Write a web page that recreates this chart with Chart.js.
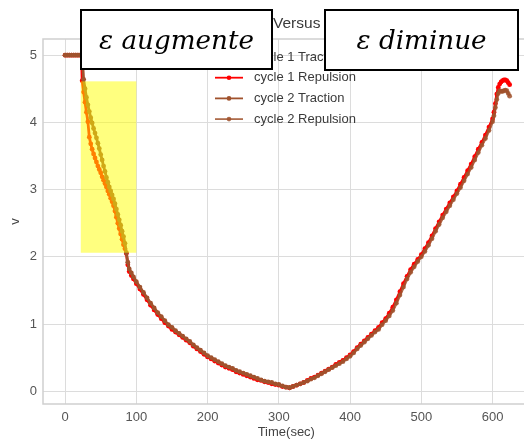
<!DOCTYPE html>
<html>
<head>
<meta charset="utf-8">
<script src="https://cdn.jsdelivr.net/npm/chart.js@4.4.1/dist/chart.umd.min.js"></script>
<style>
  html, body { margin: 0; padding: 0; background: #fff; overflow: hidden; }
  #wrap { width: 532px; height: 442px; }
</style>
</head>
<body>
<div id="wrap"><canvas id="chart" width="532" height="442"></canvas></div>
<script>
// Values (time in seconds, v)
const tractionTime = [
  0, 3, 6, 9, 12, 15, 18, 21, 23,
  24, 26, 28, 30, 32, 34, 36, 38, 40, 42, 44, 46, 48, 50, 52, 54, 56, 58, 60, 62,
  64, 66, 68, 70, 72, 74, 76, 78, 80, 82, 84, 86,
  88, 90, 93, 96,
  100, 105, 110, 115, 120, 125, 130, 135, 140, 145, 150, 155, 160, 165, 170, 175,
  180, 185, 190, 195, 200, 205, 210, 215, 220, 225, 230, 235, 240, 245, 250, 255,
  260, 265, 270, 275, 280, 285, 290, 295, 300, 305, 310, 315,
]
const cycle1Traction = [
  5, 5, 5, 5, 5, 5, 5, 5, 5,
  4.62, 4.45, 4.30, 4.15, 4.01, 3.78, 3.68, 3.60, 3.53, 3.47,
  3.41, 3.35, 3.30, 3.25, 3.19, 3.14, 3.09, 3.04, 2.98, 2.93,
  2.87, 2.82, 2.76, 2.68, 2.59, 2.50, 2.42, 2.34, 2.26, 2.18, 2.12, 2.05,
  1.88, 1.78, 1.72, 1.67,
  1.60, 1.52, 1.44, 1.36, 1.28, 1.21, 1.14, 1.08, 1.02, 0.97,
  0.92, 0.88, 0.84, 0.80, 0.76, 0.72, 0.67, 0.63, 0.59, 0.55,
  0.51, 0.48, 0.45, 0.42, 0.39, 0.36, 0.34, 0.32, 0.29, 0.27,
  0.25, 0.23, 0.21, 0.19, 0.17, 0.16, 0.14, 0.13, 0.11, 0.10,
  0.09, 0.07, 0.06, 0.05,
]
const cycle2Traction = [
  5, 5, 5, 5, 5, 5, 5, 5, 5,
  5, 4.64, 4.50, 4.37, 4.26, 4.16, 4.07, 3.99, 3.91, 3.84,
  3.77, 3.69, 3.61, 3.52, 3.44, 3.35, 3.27, 3.18, 3.11, 3.04,
  2.98, 2.92, 2.86, 2.79, 2.71, 2.63, 2.55, 2.47, 2.38, 2.30, 2.20, 2.06,
  1.92, 1.82, 1.76, 1.70,
  1.63, 1.55, 1.47, 1.39, 1.31, 1.24, 1.17, 1.11, 1.05, 0.99,
  0.95, 0.90, 0.86, 0.82, 0.78, 0.74, 0.69, 0.65, 0.61, 0.57,
  0.53, 0.50, 0.47, 0.44, 0.41, 0.38, 0.36, 0.34, 0.31, 0.29,
  0.27, 0.25, 0.23, 0.21, 0.19, 0.17, 0.15, 0.14, 0.13, 0.11,
  0.10, 0.08, 0.06, 0.055,
]

const repulsionTime = [
  315, 320, 325, 330, 335, 340, 345, 350, 355, 360,
  365, 370, 375, 380, 385, 390, 395, 400, 405, 410,
  415, 420, 425, 430, 435, 440, 445, 450, 455, 460,
  465, 470, 475, 480, 485, 490, 495, 500, 505, 510,
  515, 520, 525, 530, 535, 540, 545, 550, 555, 560,
  565, 570, 575, 580, 585, 590, 595, 600,
  602, 604, 606, 608, 610, 612, 614, 616, 618, 620, 622, 624,
]
const cycle1Repulsion = [
  0.05, 0.07, 0.09, 0.11, 0.13, 0.16, 0.19, 0.21, 0.24, 0.27,
  0.30, 0.33, 0.36, 0.40, 0.43, 0.46, 0.50, 0.54, 0.59, 0.65,
  0.70, 0.75, 0.80, 0.85, 0.90, 0.95, 1.02, 1.08, 1.16, 1.25,
  1.36, 1.48, 1.60, 1.71, 1.81, 1.89, 1.96, 2.03, 2.12, 2.21,
  2.31, 2.42, 2.52, 2.62, 2.71, 2.80, 2.89, 2.98, 3.08, 3.18,
  3.28, 3.38, 3.49, 3.60, 3.70, 3.81, 3.93, 4.05,
  4.15, 4.28, 4.42, 4.52, 4.57, 4.60, 4.62, 4.63, 4.63, 4.62, 4.59, 4.56,
]
const cycle2Repulsion = [
  0.055, 0.07, 0.09, 0.11, 0.13, 0.15, 0.18, 0.20, 0.23, 0.26,
  0.29, 0.32, 0.35, 0.38, 0.41, 0.44, 0.48, 0.52, 0.57, 0.63,
  0.68, 0.73, 0.78, 0.83, 0.88, 0.92, 0.99, 1.05, 1.12, 1.20,
  1.31, 1.43, 1.55, 1.67, 1.77, 1.85, 1.93, 2.00, 2.08, 2.17,
  2.27, 2.38, 2.48, 2.58, 2.67, 2.76, 2.85, 2.94, 3.03, 3.13,
  3.23, 3.33, 3.44, 3.55, 3.66, 3.76, 3.88, 4.01,
  4.10, 4.22, 4.34, 4.43, 4.47, 4.46, 4.46, 4.47, 4.48, 4.47, 4.43, 4.39,
]

const xTicks = [0, 100, 200, 300, 400, 500, 600]
const yTicks = [0, 1, 2, 3, 4, 5]

// highlighted zone (time from/to, v from/to)
const highlightTime = [22, 100]
const highlightV = [2.06, 4.61]

const titleText = "v Versus Time"
const noteLeft = "\u03b5 augmente"
const noteRight = "\u03b5 diminue"

const RED = "#ff0000"
const BROWN = "#a0522d"
const BROWN_LIGHT = "rgba(160, 82, 45, 0.85)"
const SANS = '"Liberation Sans", Arial, sans-serif'

const toPoints = (xs, ys) => xs.map((x, i) => ({x, y: ys[i]}))

const series = (label, xs, ys, color, order) => ({
  label,
  data: toPoints(xs, ys),
  borderColor: color,
  backgroundColor: color,
  borderWidth: 2.8,
  pointRadius: 2.4,
  pointBorderWidth: 0,
  pointHoverRadius: 2.4,
  order,
})

const datasets = [
  series("cycle 1 Traction", tractionTime, cycle1Traction, RED, 4),
  series("cycle 1 Repulsion", repulsionTime, cycle1Repulsion, RED, 3),
  series("cycle 2 Traction", tractionTime, cycle2Traction, BROWN, 2),
  series("cycle 2 Repulsion", repulsionTime, cycle2Repulsion, BROWN_LIGHT, 1),
]

const noteBox = (ctx, text, left, top, right, bottom, size) => {
  ctx.fillStyle = "#ffffff"
  ctx.fillRect(left, top, right - left, bottom - top)
  ctx.strokeStyle = "#000000"
  ctx.lineWidth = 2
  ctx.strokeRect(left, top, right - left, bottom - top)
  ctx.fillStyle = "#000000"
  ctx.font = `italic ${size}px "DejaVu Serif", serif`
  ctx.textAlign = "center"
  ctx.textBaseline = "alphabetic"
  ctx.fillText(text, (left + right) / 2, 49)
}

const overlays = {
  id: "overlays",
  beforeDatasetsDraw(chart) {
    const {ctx, chartArea: a} = chart
    ctx.save()
    ctx.strokeStyle = "#cfcfcf"
    ctx.lineWidth = 1.5
    ctx.strokeRect(a.left, a.top, a.width, a.height)
    ctx.restore()
  },
  afterDatasetsDraw(chart) {
    const {ctx, scales: {x, y}} = chart
    ctx.save()

    // yellow highlight over the curves
    const hx0 = x.getPixelForValue(highlightTime[0])
    const hx1 = x.getPixelForValue(highlightTime[1])
    const hy0 = y.getPixelForValue(highlightV[1])
    const hy1 = y.getPixelForValue(highlightV[0])
    ctx.fillStyle = "rgba(255, 255, 0, 0.5)"
    ctx.fillRect(hx0, hy0, hx1 - hx0, hy1 - hy0)

    // title
    ctx.fillStyle = "#3a3a3a"
    ctx.font = `15.5px ${SANS}`
    ctx.textAlign = "left"
    ctx.textBaseline = "middle"
    ctx.fillText(titleText, 273 - ctx.measureText("v ").width, 24)

    // legend inside the plot
    ctx.font = `13px ${SANS}`
    chart.data.datasets.forEach((ds, i) => {
      const ly = 57 + i * 20.7
      ctx.strokeStyle = ds.borderColor
      ctx.lineWidth = 1.8
      ctx.beginPath()
      ctx.moveTo(215, ly)
      ctx.lineTo(243, ly)
      ctx.stroke()
      ctx.fillStyle = ds.borderColor
      ctx.beginPath()
      ctx.arc(229, ly, 2.3, 0, Math.PI * 2)
      ctx.fill()
      ctx.fillStyle = "#3a3a3a"
      ctx.fillText(ds.label, 254, ly)
    })

    // annotation boxes
    ctx.font = `italic 30px "DejaVu Serif", serif`
    const size = 30 * 155 / ctx.measureText(noteLeft).width
    noteBox(ctx, noteLeft, 81, 10, 272, 69, size)
    noteBox(ctx, noteRight, 325, 10, 518, 70, size)

    ctx.restore()
  },
}

const axisTicks = (values) => (scale) => {
  scale.ticks = values.map((value) => ({value}))
}

new Chart(document.getElementById("chart"), {
  type: "line",
  data: {datasets},
  options: {
    responsive: false,
    animation: false,
    events: [],
    layout: {padding: {left: 0, top: 39, right: 0, bottom: 0}},
    plugins: {
      legend: {display: false},
      tooltip: {enabled: false},
    },
    scales: {
      x: {
        type: "linear",
        min: -31,
        max: 652,
        afterBuildTicks: axisTicks(xTicks),
        afterFit: (scale) => { scale.height = 38 },
        grid: {color: "#dcdcdc", lineWidth: 1, drawTicks: false},
        border: {display: false},
        ticks: {color: "#555555", font: {family: SANS, size: 13}, padding: 6, maxRotation: 0},
        title: {display: true, text: "Time(sec)", color: "#444444", font: {family: SANS, size: 13}, padding: {top: 0, bottom: 2}},
      },
      y: {
        type: "linear",
        min: -0.19,
        max: 5.24,
        afterBuildTicks: axisTicks(yTicks),
        afterFit: (scale) => { scale.width = 43 },
        grid: {color: "#dcdcdc", lineWidth: 1, drawTicks: false},
        border: {display: false},
        ticks: {color: "#555555", font: {family: SANS, size: 13}, padding: 6},
        title: {display: true, text: "v", color: "#444444", font: {family: SANS, size: 13}, padding: {top: 8, bottom: 0}},
      },
    },
  },
  plugins: [overlays],
})
</script>
</body>
</html>
